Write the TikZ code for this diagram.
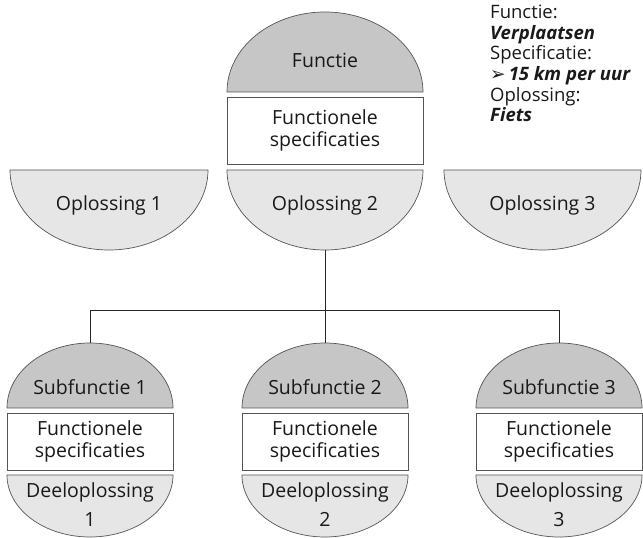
\documentclass[tikz,border=0pt]{standalone}
\usepackage{fontspec}
\setmainfont{Open Sans}
\newfontfamily\dingfont{DejaVu Sans}
\usetikzlibrary{positioning}
\definecolor{funcgrey}{RGB}{198,198,198}
\definecolor{solgrey}{RGB}{230,230,230}
\definecolor{edgegrey}{RGB}{85,85,85}

\begin{document}
\begin{tikzpicture}[x=1pt, y=1pt,
    every node/.style={font=\fontsize{19.5}{22}\selectfont, text=black!90},
    func/.style={draw=edgegrey, line width=0.7pt, fill=funcgrey},
    sol/.style={draw=edgegrey, line width=0.7pt, fill=solgrey},
    specbox/.style={draw=edgegrey, line width=0.7pt, fill=white, align=center, inner sep=0pt},
    link/.style={draw=black!85, line width=0.8pt}]
    \useasboundingbox (0,0) rectangle (643,538);
    % hoofdfunctie
    \draw[func] (227,446) arc[start angle=180, end angle=0, x radius=98, y radius=80] -- cycle;
    \node (functie) at (325,478) {Functie};
    \node[specbox, minimum width=196pt, minimum height=67pt] (spec) at (325,407.5) {Functionele\\specificaties};
    % oplossingen
    \draw[sol] (10,368) arc[start angle=180, end angle=360, x radius=99, y radius=80] -- cycle;
    \node (opl1) at (109,333) {Oplossing 1};
    \draw[sol] (227,368) arc[start angle=180, end angle=360, x radius=98, y radius=80] -- cycle;
    \node (opl2) at (325,333) {Oplossing 2};
    \coordinate (opl2b) at (325,288);
    \draw[sol] (444,368) arc[start angle=180, end angle=360, x radius=98.5, y radius=80] -- cycle;
    \node (opl3) at (542.5,333) {Oplossing 3};
    % voorbeeld
    \node[anchor=north west, align=left, inner sep=0pt, font=\fontsize{18.5}{20.6}\selectfont] (vb) at (490,533)
      {Functie:\\\textbf{\textit{Verplaatsen}}\\Specificatie:\\{\dingfont\bfseries ➢}\,\textbf{\textit{15 km per uur}}\\Oplossing:\\\textbf{\textit{Fiets}}};
    % subfuncties
    \begin{scope}[xshift=90pt]
    \draw[func] (-83,130) arc[start angle=180, end angle=0, x radius=83, y radius=65] -- cycle;
    \node (sub1) at (0,151) {Subfunctie 1};
    \node[specbox, minimum width=166pt, minimum height=57pt] (spec1) at (0,96.5) {Functionele\\specificaties};
    \draw[sol] (-83,63) arc[start angle=180, end angle=360, x radius=83, y radius=62] -- cycle;
    \node[align=center] (deel1) at (0,33) {Deeloplossing\\[7pt]1};
    \coordinate (sub1t) at (0,195);
    \end{scope}
    \begin{scope}[xshift=325pt]
    \draw[func] (-83,130) arc[start angle=180, end angle=0, x radius=83, y radius=65] -- cycle;
    \node (sub2) at (0,151) {Subfunctie 2};
    \node[specbox, minimum width=166pt, minimum height=57pt] (spec2) at (0,96.5) {Functionele\\specificaties};
    \draw[sol] (-83,63) arc[start angle=180, end angle=360, x radius=83, y radius=62] -- cycle;
    \node[align=center] (deel2) at (0,33) {Deeloplossing\\[7pt]2};
    \coordinate (sub2t) at (0,195);
    \end{scope}
    \begin{scope}[xshift=559pt]
    \draw[func] (-83,130) arc[start angle=180, end angle=0, x radius=83, y radius=65] -- cycle;
    \node (sub3) at (0,151) {Subfunctie 3};
    \node[specbox, minimum width=166pt, minimum height=57pt] (spec3) at (0,96.5) {Functionele\\specificaties};
    \draw[sol] (-83,63) arc[start angle=180, end angle=360, x radius=83, y radius=62] -- cycle;
    \node[align=center] (deel3) at (0,33) {Deeloplossing\\[7pt]3};
    \coordinate (sub3t) at (0,195);
    \end{scope}
    % verbindingen
    \coordinate (hub) at (325,228);
    \draw[link] (opl2b) -- (sub2t);
    \draw[link] (sub1t) -- (sub1t |- hub) -- (sub3t |- hub) -- (sub3t);
\end{tikzpicture}
\end{document}
